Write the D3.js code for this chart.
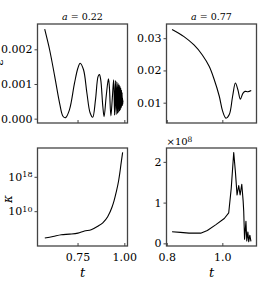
<!DOCTYPE html>
<html>
<head>
<meta charset="utf-8">
<script src="https://cdn.jsdelivr.net/npm/d3@7"></script>
<style>
body { margin: 0; background: #fff; }
svg { display: block; }
svg text { font-family: "DejaVu Serif", serif !important; }
</style>
</head>
<body>
<script>
var w = 269;
var h = 294;

// top-left, a = 0.22
var tA = [0.5745, 0.601, 0.628, 0.654, 0.672, 0.686, 0.707, 0.734, 0.752, 0.764, 0.782, 0.800, 0.817, 0.831,
  0.846, 0.860, 0.867, 0.874, 0.885, 0.892, 0.903, 0.915, 0.920, 0.928, 0.936, 0.943, 0.948, 0.9525, 0.9565,
  0.960, 0.9635, 0.9665, 0.9695, 0.972, 0.9745, 0.9768, 0.979, 0.981, 0.983, 0.9848, 0.9864, 0.988, 0.9893,
  0.9905, 0.9915, 0.9925, 0.993];
var vA = [0.00258, 0.00198, 0.00122, 0.00045, 0.00007, 0.00003, 0.00026, 0.00103, 0.00146, 0.00160, 0.00141,
  0.00074, 0.00017, 0.00004, 0.00055, 0.00122, 0.00127, 0.00112, 0.00036, 0.00006, 0.00064, 0.00115, 0.00093,
  0.00008, 0.00060, 0.00112, 0.00010, 0.00110, 0.00012, 0.00106, 0.00015, 0.00102, 0.00018, 0.00098, 0.00022,
  0.00093, 0.00026, 0.00088, 0.00031, 0.00082, 0.00036, 0.00075, 0.00038, 0.00060, 0.00042, 0.00053, 0.00047];

// top-right, a = 0.77
var tB = [0.819, 0.862, 0.898, 0.928, 0.953, 0.971, 0.989, 1.001, 1.013, 1.025, 1.037, 1.047, 1.056, 1.065,
  1.074, 1.082, 1.092, 1.104];
var vB = [0.0327, 0.0305, 0.0279, 0.0248, 0.0212, 0.0171, 0.0120, 0.0074, 0.0052, 0.0063, 0.0120, 0.0161,
  0.0140, 0.0111, 0.0129, 0.0135, 0.0134, 0.0138];

// bottom-left, kappa (log)
var tK = [0.575, 0.619, 0.663, 0.707, 0.752, 0.787, 0.823, 0.858, 0.885, 0.911, 0.934, 0.945, 0.956, 0.970,
  0.976, 0.982, 0.991];
var kK = [5.8e3, 1.3e4, 3.2e4, 4.5e4, 8e4, 2.5e5, 5e5, 3.2e6, 2e7, 5e8, 8e10, 2.5e12, 2e14, 1.6e17, 8e18,
  8e20, 5e23];

// bottom-right, kappa x 1e8
var tC = [0.819, 0.849, 0.880, 0.922, 0.946, 0.977, 1.007, 1.023, 1.032, 1.041, 1.047, 1.053, 1.059, 1.064,
  1.070, 1.075, 1.077, 1.080, 1.085, 1.088, 1.092, 1.095, 1.099, 1.103];
var vC = [0.285, 0.27, 0.25, 0.25, 0.316, 0.46, 0.61, 0.75, 1.35, 2.23, 1.76, 1.19, 1.42, 1.19, 1.45, 1.03,
  0.79, 0.10, 0.54, 0.06, 0.28, 0.04, 0.20, 0.05];

var titles = ["a = 0.22", "a = 0.77"];
var ticksA = [0, 0.001, 0.002];
var ticksB = [0.01, 0.02, 0.03];
var ticksK = [1e10, 1e18];
var ticksC = [0, 1, 2];
var xTicksLeft = [0.75, 1.00];
var xTicksRight = [0.8, 1.0];

var svg = d3.select("body").append("svg")
  .attr("width", w)
  .attr("height", h);

var colL = [37.5, 127.5];
var colR = [166.5, 256.5];
var rowT = [24, 123];
var rowB = [148, 246];

var xLeft = d3.scaleLinear().domain([0.536, 1.017]).range(colL);
var xRight = d3.scaleLinear().domain([0.799, 1.123]).range(colR);

var yA = d3.scaleLinear().domain([-0.000125, 0.00273]).range([rowT[1], rowT[0]]);
var yB = d3.scaleLinear().domain([0.0037, 0.0344]).range([rowT[1], rowT[0]]);
var yK = d3.scaleLog().domain([Math.pow(10, 1.9), Math.pow(10, 24.7)]).range([rowB[1], rowB[0]]);
var yC = d3.scaleLinear().domain([-0.065, 2.34]).range([rowB[1], rowB[0]]);

var frameColor = "#444";

function panel(x, y, ts, vs, yTicks, yFormat, xTicks, xFormat, curve) {
  var g = svg.append("g");

  // y axis, ticks outward
  var ya = g.append("g")
    .attr("class", "yaxis")
    .attr("transform", "translate(" + x.range()[0] + ",0)")
    .call(d3.axisLeft(y).tickValues(yTicks).tickFormat(yFormat).tickSizeInner(3).tickSizeOuter(0).tickPadding(2));
  ya.attr("font-size", 11);
  ya.select(".domain").remove();
  ya.selectAll("line").attr("stroke", frameColor).attr("stroke-width", 1);

  // x axis, ticks inward
  var xa = g.append("g")
    .attr("class", "xaxis")
    .attr("transform", "translate(0," + y.range()[0] + ")")
    .call(d3.axisBottom(x).tickValues(xTicks).tickFormat(xFormat).tickSizeInner(-3).tickSizeOuter(0).tickPadding(7));
  xa.attr("font-size", 11);
  xa.select(".domain").remove();
  xa.selectAll("line").attr("stroke", frameColor).attr("stroke-width", 1);

  var pts = ts.map(function(d, i) { return [d, vs[i]]; });
  var line = d3.line()
    .x(function(d) { return x(d[0]); })
    .y(function(d) { return y(d[1]); })
    .curve(curve);

  g.append("path")
    .datum(pts)
    .attr("d", line)
    .attr("fill", "none")
    .attr("stroke", "#000")
    .attr("stroke-width", 1.1)
    .attr("stroke-linejoin", "round");

  g.append("rect")
    .attr("x", x.range()[0])
    .attr("y", y.range()[1])
    .attr("width", x.range()[1] - x.range()[0])
    .attr("height", y.range()[0] - y.range()[1])
    .attr("fill", "none")
    .attr("stroke", frameColor)
    .attr("stroke-width", 1.3);
  return g;
}

var blank = function() { return ""; };

panel(xLeft, yA, tA, vA, ticksA, d3.format(".3f"), xTicksLeft, blank, d3.curveCatmullRom.alpha(0.5));
panel(xRight, yB, tB, vB, ticksB, d3.format(".2f"), xTicksRight, blank, d3.curveCatmullRom.alpha(0.5));
var gK = panel(xLeft, yK, tK, kK, ticksK, function(d) { return String(d); }, xTicksLeft, d3.format(".2f"), d3.curveMonotoneX);
panel(xRight, yC, tC, vC, ticksC, d3.format("d"), xTicksRight, d3.format(".1f"), d3.curveLinear);

// log tick labels as 10 with superscript
gK.selectAll(".yaxis g.tick text").each(function(d) {
  var t = d3.select(this);
  var e = Math.round(Math.log10(d));
  t.text("10");
  t.append("tspan").attr("dy", "-0.45em").attr("font-size", 8).text(e);
});

// titles with italic a
titles.forEach(function(s, i) {
  var x = i === 0 ? xLeft : xRight;
  var parts = s.split(" = ");
  var tt = svg.append("text")
    .attr("x", (x.range()[0] + x.range()[1]) / 2)
    .attr("y", 20)
    .attr("text-anchor", "middle")
    .attr("font-size", 9.5);
  tt.append("tspan").attr("font-style", "italic").text(parts[0]);
  tt.append("tspan").text(" = " + parts[1]);
});

// x labels
[xLeft, xRight].forEach(function(x) {
  svg.append("text")
    .attr("x", (x.range()[0] + x.range()[1]) / 2)
    .attr("y", 277)
    .attr("text-anchor", "middle")
    .attr("font-size", 13)
    .attr("font-style", "italic")
    .text("t");
});

// y labels (the reference crops them at the left edge)
svg.append("text")
  .attr("transform", "translate(12,199) rotate(-90)")
  .attr("text-anchor", "middle")
  .attr("font-size", 12)
  .attr("font-style", "italic")
  .text("κ");
svg.append("text")
  .attr("transform", "translate(3,62) rotate(-90)")
  .attr("text-anchor", "middle")
  .attr("font-size", 12)
  .attr("font-style", "italic")
  .text("ε");

// offset label x10^8
var off = svg.append("text")
  .attr("x", xRight.range()[0])
  .attr("y", 145)
  .attr("font-size", 10);
off.append("tspan").text("×10");
off.append("tspan").attr("dy", "-0.45em").attr("font-size", 7.5).text("8");
</script>
</body>
</html>
